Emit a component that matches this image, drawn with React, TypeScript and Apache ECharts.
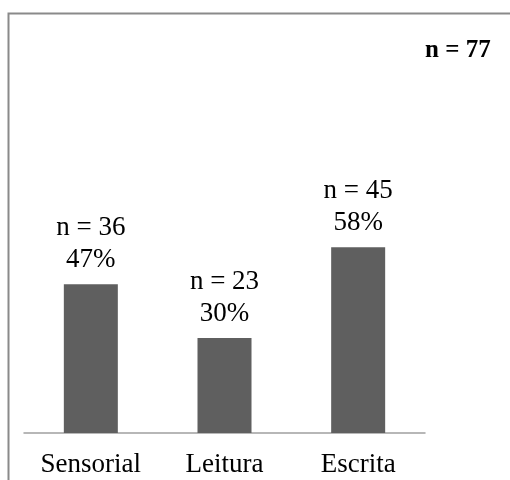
import React, { useEffect, useRef } from "react";
import * as echarts from "echarts";

const categories = ["Sensorial", "Leitura", "Escrita"];
const counts = [36, 23, 45];
const percentLabels = ["47%", "30%", "58%"];
const total = 77;

const SERIF = "serif";

export default function App() {
  const ref = useRef<HTMLDivElement>(null);
  useEffect(() => {
    if (!ref.current) return;
    const chart = echarts.init(ref.current, null, { renderer: "svg" });
    const values = counts.map((c) => (c / total) * 100);
    chart.setOption({
      animation: false,
      textStyle: { fontFamily: SERIF },
      grid: { left: 24, top: 115, width: 401, bottom: 47, containLabel: false },
      xAxis: {
        type: "category",
        data: categories,
        axisLine: { lineStyle: { color: "#a0a0a0", width: 1.5 } },
        axisTick: { show: false },
        axisLabel: {
          color: "#000",
          fontFamily: SERIF,
          fontSize: 27,
          margin: 16,
        },
      },
      yAxis: {
        type: "value",
        min: 0,
        max: 100,
        show: false,
        splitLine: { show: false },
      },
      graphic: [
        {
          type: "rect",
          shape: { x: 8.5, y: 13.5, width: 520, height: 500 },
          style: { fill: "none", stroke: "#8a8a8a", lineWidth: 2 },
          silent: true,
        },
        {
          type: "text",
          left: 425,
          top: 36,
          style: {
            text: "n = " + total,
            fontFamily: "Times New Roman",
            fontWeight: 700,
            fontSize: 25,
            fill: "#000",
          },
        },
      ],
      series: [
        {
          type: "bar",
          data: values,
          barWidth: 54,
          itemStyle: { color: "#5f5f5f" },
          label: {
            show: true,
            position: "top",
            distance: 10,
            color: "#000",
            fontFamily: SERIF,
            fontSize: 27,
            lineHeight: 32,
            formatter: (p: any) =>
              "n = " + counts[p.dataIndex] + "\n" + percentLabels[p.dataIndex],
          },
        },
      ],
    });
    return () => chart.dispose();
  }, []);
  return (
    <div
      ref={ref}
      style={{ position: "fixed", left: 0, top: 0, width: 510, height: 480 }}
    />
  );
}
